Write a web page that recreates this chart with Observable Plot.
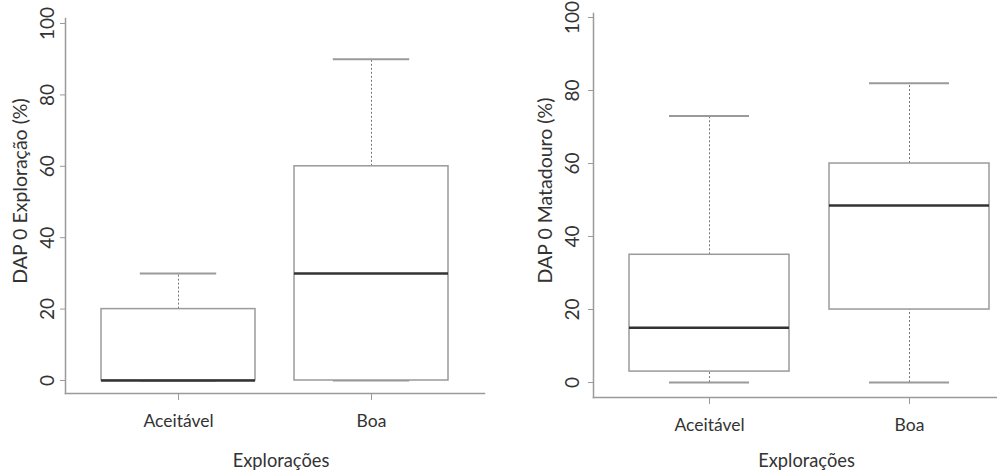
<!DOCTYPE html>
<html>
<head>
<meta charset="utf-8">
<script src="https://cdn.jsdelivr.net/npm/d3@7"></script>
<script src="https://cdn.jsdelivr.net/npm/@observablehq/plot@0.6"></script>
<style>
  html, body { margin: 0; padding: 0; background: #fff; }
  #wrap { width: 997px; height: 475px; overflow: hidden; display: flex; }
  #wrap > * { flex: none; }
</style>
</head>
<body>
<div id="wrap"></div>
<script>
const categories = ["Aceitável", "Boa"];
const yTicks = [0, 20, 40, 60, 80, 100];
const xTitle = "Explorações";

const explLabel = "DAP 0 Exploração (%)";
const explMin = [0, 0];
const explQ1 = [0, 0];
const explMedian = [0, 30];
const explQ3 = [20, 60];
const explMax = [30, 90];

const matLabel = "DAP 0 Matadouro (%)";
const matMin = [0, 0];
const matQ1 = [3, 20];
const matMedian = [15, 48.5];
const matQ3 = [35, 60];
const matMax = [73, 82];

function rows(mn, q1, md, q3, mx) {
  return categories.map((c, i) => ({cat: c, min: mn[i], q1: q1[i], med: md[i], q3: q3[i], max: mx[i]}));
}

const FONT = "Lato, 'Open Sans', sans-serif";
const AXIS = "#9a9a9a";
const BOX = "#9a9a9a";
const TEXT = "#333";

function panel(data, yLabel, cfg) {
  const pIn = 0.2, pOut = 0.18;
  const plotW = cfg.width - cfg.marginLeft - cfg.marginRight;
  const step = plotW / (categories.length - pIn + 2 * pOut);
  const bw = step * (1 - pIn);
  return Plot.plot({
    width: cfg.width,
    height: 475,
    marginLeft: cfg.marginLeft,
    marginRight: cfg.marginRight,
    marginTop: cfg.marginTop,
    marginBottom: cfg.marginBottom,
    style: {fontFamily: FONT, fontSize: "17px", color: TEXT, background: "white", overflow: "visible"},
    x: {domain: categories, paddingInner: pIn, paddingOuter: pOut},
    y: {domain: cfg.yDomain},
    marks: [
      Plot.frame({anchor: "left", stroke: AXIS, strokeWidth: 1.5}),
      Plot.frame({anchor: "bottom", stroke: AXIS, strokeWidth: 1.5}),
      Plot.axisY({ticks: yTicks, tickRotate: -90, tickSize: 5, tickPadding: cfg.yPad, label: null,
        stroke: AXIS, fill: TEXT, fontSize: 19}),
      Plot.axisX({tickSize: 7, tickPadding: 14, label: null, stroke: AXIS, fill: TEXT, fontSize: 17.5}),
      Plot.ruleX(data, {x: "cat", y1: "q3", y2: "max", stroke: "#777", strokeDasharray: "2,2"}),
      Plot.ruleX(data, {x: "cat", y1: "min", y2: "q1", stroke: "#777", strokeDasharray: "2,2"}),
      Plot.tickY(data, {x: "cat", y: "max", stroke: BOX, strokeWidth: 2, insetLeft: bw / 4, insetRight: bw / 4}),
      Plot.tickY(data, {x: "cat", y: "min", stroke: BOX, strokeWidth: 2, insetLeft: bw / 4, insetRight: bw / 4}),
      Plot.barY(data, {x: "cat", y1: "q1", y2: "q3", fill: "white", stroke: BOX, strokeWidth: 1.5}),
      Plot.tickY(data, {x: "cat", y: "med", stroke: "#333", strokeWidth: 2.5}),
      Plot.text([yLabel], {frameAnchor: "left", textAnchor: "middle", lineAnchor: "middle", rotate: -90,
        dx: cfg.ylDx, dy: -15, fill: TEXT, fontSize: 19.5}),
      Plot.text([xTitle], {frameAnchor: "bottom", textAnchor: "middle", lineAnchor: "middle",
        dx: cfg.xlDx, dy: cfg.xlDy, fill: TEXT, fontSize: 18.3})
    ]
  });
}

const wrap = document.getElementById("wrap");
wrap.appendChild(panel(rows(explMin, explQ1, explMedian, explQ3, explMax), explLabel, {
  width: 497, marginLeft: 65, marginRight: 13, marginTop: 18, marginBottom: 82,
  yDomain: [-3.64, 101.4], yPad: 7, ylDx: -45, xlDx: 6, xlDy: 68
}));
wrap.appendChild(panel(rows(matMin, matQ1, matMedian, matQ3, matMax), matLabel, {
  width: 528, marginLeft: 96, marginRight: 0, marginTop: 13, marginBottom: 78,
  yDomain: [-4.1, 101.1], yPad: 10, ylDx: -48, xlDx: -3, xlDy: 64
}));
</script>
</body>
</html>
